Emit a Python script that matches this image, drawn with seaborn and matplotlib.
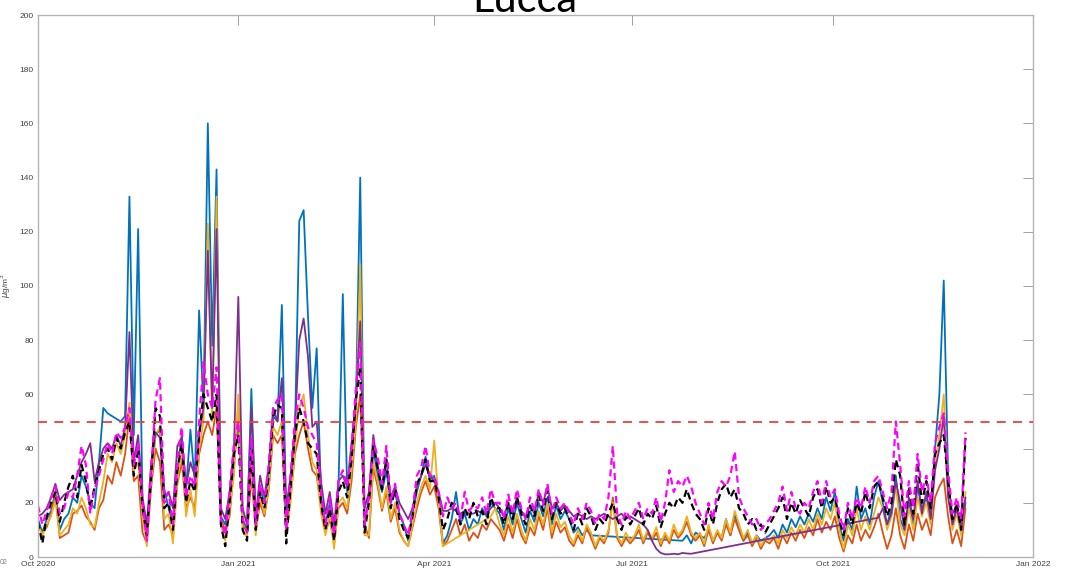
import numpy as np
import pandas as pd
import matplotlib
matplotlib.use("Agg")
import matplotlib.pyplot as plt
import matplotlib.dates as mdates
import seaborn as sns

nan = np.nan

# Daily PM10 concentrations, sampled every second day from 1 Oct 2020
start_date = "2020-10-01"
step = "2D"

blue_series = [
    14, 9, 14, 17, 24, 10, 14, 16, 22, 20, 30, 26, 20, 18, 35, 55,        # Oct 2020
    53, 52, 51, 50, 52, 133, 45, 121, 20, 10, 30, 45, 47, 25, 18,         # Nov
    12, 30, 45, 25, 47, 28, 91, 55, 160, 78, 143, 15, 12, 20, 35,         # Dec
    50, 14, 10, 62, 12, 25, 20, 30, 52, 50, 93, 15, 25, 45, 124, 128,     # Jan 2021
    89, 55, 77, 22, 12, 20, 8, 25, 97, 24, 38, 55, 140, 12,               # Feb
    22, 40, 30, 24, 32, 20, 24, 16, 12, 6, 16, 24, 30, 37, 28,            # Mar
    30, 20, 5, 8, 14, 24, 12, 16, 10, 14, 12, 18, 15, 20, 18,             # Apr
    16, 10, 18, 12, 20, 14, 9, 17, 13, 20, 15, 22, 12, 19, 14, 17,        # May
    14, 9, 11, 8, 10, 8, nan, nan, nan, nan, nan, nan, nan, nan, nan,     # Jun
    nan, nan, nan, nan, nan, nan, nan, nan, nan, nan, nan, 6, 8, 5, 9,    # Jul
    8, 7, 10, 6, 9, 7, 14, 8, 16, 10, 6, 9, 5, 8, 6, 7,                   # Aug
    8, 10, 7, 12, 9, 14, 11, 15, 12, 16, 13, 18, 14, 22, 17,              # Sep
    24, 12, 6, 14, 10, 26, 14, 18, 12, 22, 28, 20, 12, 18, 30,            # Oct
    14, 10, 20, 12, 26, 18, 22, 15, 40, 60, 102, 30, 12, 18, 10, 20,      # Nov
]

orange_series = [
    11, 9, 11, 16, 23, 7, 8, 9, 16, 17, 19, 15, 13, 10, 18, 21,
    30, 27, 35, 30, 38, 52, 28, 30, 9, 5, 26, 40, 35, 10, 12,
    8, 27, 35, 18, 22, 18, 38, 45, 50, 45, 55, 14, 10, 15, 33,
    55, 12, 9, 30, 10, 20, 15, 25, 45, 42, 45, 10, 22, 38, 45, 50,
    40, 32, 30, 18, 9, 14, 5, 18, 20, 16, 28, 48, 60, 12,
    7, 33, 26, 17, 24, 13, 18, 9, 6, 4, 11, 18, 24, 28, 23,
    26, 18, 4, 6, 10, 14, 8, 12, 6, 9, 7, 12, 10, 14, 12,
    10, 6, 12, 7, 14, 8, 5, 11, 8, 15, 10, 18, 7, 13, 9, 11,
    6, 4, 8, 5, 11, 7, 3, 7, 5, 9, 22, 7, 4, 7, 5,
    7, 10, 5, 9, 6, 9, 4, 8, 5, 10, 7, 9, 13, 8, 6,
    8, 4, 10, 5, 9, 6, 12, 8, 14, 10, 6, 8, 4, 7, 3, 6,
    5, 7, 3, 8, 5, 9, 6, 10, 7, 11, 8, 14, 9, 13, 10,
    15, 7, 2, 8, 5, 12, 6, 10, 7, 11, 16, 9, 3, 8, 18,
    8, 3, 12, 6, 16, 10, 14, 8, 22, 26, 29, 15, 5, 10, 4, 18,
]

yellow_series = [
    12, 8, 12, 15, 21, 8, 10, 12, 18, 16, 22, 18, 12, 11, 20, 28,
    38, 35, 42, 38, 45, 57, 32, 35, 15, 4, 28, 45, 48, 14, 16,
    5, 28, 40, 15, 25, 15, 40, 50, 123, 50, 133, 12, 6, 18, 30,
    60, 10, 7, 35, 8, 22, 16, 26, 48, 45, 50, 8, 20, 40, 55, 60,
    45, 35, 32, 16, 8, 16, 3, 20, 22, 18, 32, 50, 108, 8,
    8, 35, 28, 18, 26, 14, 20, 10, 6, 4, 12, 20, 26, 30, 25,
    43, 20, 4, nan, nan, nan, nan, nan, nan, nan, nan, nan, nan, 15, 18,
    12, 8, 15, 9, 16, 10, 6, 14, 10, 17, 12, 20, 9, 16, 11, 13,
    8, 5, 10, 6, 12, 9, 4, 8, 6, 10, 20, 8, 5, 9, 6,
    8, 12, 6, 10, 7, 11, 5, 9, 6, 12, 8, 10, 15, 9, 7,
    9, 5, 12, 6, 10, 7, 14, 9, 17, 12, 7, 10, 5, 8, 4, 7,
    6, 8, 5, 10, 7, 11, 8, 12, 9, 14, 10, 16, 12, 18, 14,
    20, 10, 3, 12, 8, 18, 10, 15, 10, 16, 22, 18, 10, 15, 26,
    12, 8, 18, 10, 22, 15, 20, 12, 35, 45, 60, 25, 10, 16, 8, 24,
]

purple_series = [
    15, 16, 18, 22, 27, 21, 23, 24, 25, 30, 35, 38, 42, 28, 35, 40,
    42, 40, 45, 41, 48, 83, 35, 45, 22, 12, 35, 46, 44, 22, 24,
    18, 41, 44, 26, 35, 30, 45, 55, 113, 55, 121, 18, 14, 24, 40,
    96, 18, 12, 55, 15, 30, 22, 34, 55, 50, 66, 18, 30, 48, 80, 88,
    74, 48, 50, 28, 16, 24, 12, 28, 30, 26, 42, 58, 87, 18,
    24, 45, 33, 26, 36, 22, 26, 20, 17, 14, 18, 26, 30, 34, 30,
    28, 24, 17, 17, 18, 17, 16, 17, 16, 16, 17, 16, 16, 18, 20,
    18, 15, 20, 16, 22, 17, 15, 19, 16, 24, 20, 26, 18, 20, 17, 19,
    17, 15, 16, 15, 14, 15, 14, 15, 16, 15, 14, 15, 16, 14, 15,
    14, 13, 12, 10, 6, 3, 1.5, 1, 1, 1.2, 1, 1.5, 1.3, 1.2, nan,
    nan, nan, nan, nan, nan, nan, nan, nan, nan, nan, nan, nan, nan, nan, nan, nan,
    nan, nan, nan, nan, nan, nan, nan, nan, nan, nan, nan, nan, nan, nan, nan,
    nan, nan, nan, nan, nan, nan, nan, nan, nan, nan, 14.5, 18, 12, 16, 28,
    20, 10, 22, 14, 28, 16, 24, 14, 32, 40, 52, 22, 12, 18, 10, 22,
]

black_series = [
    13, 5, 15, 20, 24, 13, 20, 26, 30, 22, 34, 28, 18, 26, 32, 38,
    40, 36, 44, 40, 46, 50, 30, 40, 18, 8, 30, 55, 52, 18, 20,
    10, 32, 42, 20, 28, 24, 45, 60, 55, 50, 60, 12, 4, 20, 38,
    45, 10, 6, 40, 10, 24, 18, 30, 52, 56, 55, 5, 26, 45, 55, 50,
    42, 40, 38, 20, 10, 18, 6, 24, 28, 22, 36, 58, 70, 9,
    20, 41, 33, 25, 36, 18, 25, 14, 10, 7, 15, 27, 30, 36, 28,
    28, 22, 10, 14, 20, 18, 12, 18, 14, 20, 15, 17, 12, 22, 18,
    18, 12, 20, 14, 22, 16, 12, 19, 15, 23, 17, 25, 14, 20, 16, 18,
    14, 10, 16, 12, 18, 15, 10, 14, 12, 16, 20, 14, 10, 15, 12,
    15, 18, 12, 16, 14, 19, 11, 16, 20, 18, 22, 20, 25, 20, 16,
    14, 10, 18, 12, 20, 25, 27, 22, 25, 18, 16, 12, 14, 10, 12, 9,
    12, 15, 18, 22, 14, 20, 16, 21, 18, 15, 22, 25, 18, 26, 20,
    22, 14, 8, 18, 12, 20, 16, 24, 18, 26, 28, 22, 15, 20, 36,
    30, 12, 26, 16, 35, 20, 28, 18, 38, 42, 45, 28, 14, 20, 10, 44,
]

magenta_series = [
    19, 12, 17, 22, 26, 16, 18, 24, 22, 30, 41, 34, 16, 25, 30, 36,
    42, 38, 46, 44, 48, 55, 34, 42, 20, 6, 32, 58, 66, 20, 24,
    12, 35, 48, 22, 30, 26, 50, 72, 60, 55, 70, 14, 8, 24, 42,
    50, 14, 9, 44, 12, 27, 20, 34, 55, 58, 60, 10, 30, 50, 60, 55,
    48, 45, 42, 24, 12, 22, 8, 28, 32, 26, 40, 62, 79, 12,
    22, 43, 37, 27, 41, 20, 27, 16, 12, 8, 17, 30, 33, 41, 30,
    30, 24, 15, 22, 18, 20, 14, 24, 17, 19, 18, 22, 16, 25, 20,
    20, 14, 23, 16, 25, 18, 14, 22, 17, 25, 19, 27, 16, 22, 18, 20,
    16, 12, 18, 14, 20, 17, 12, 16, 14, 22, 41, 16, 12, 17, 14,
    17, 20, 14, 18, 16, 22, 13, 20, 32, 24, 28, 26, 30, 26, 20,
    16, 12, 20, 14, 24, 28, 26, 30, 39, 22, 18, 15, 12, 14, 10, 12,
    14, 17, 20, 26, 17, 24, 18, 16, 20, 18, 24, 28, 20, 28, 22,
    25, 16, 10, 20, 14, 22, 18, 26, 20, 28, 30, 24, 18, 24, 50,
    34, 15, 28, 18, 38, 24, 30, 20, 42, 48, 53, 32, 16, 22, 14, 46,
]

limit_value = 50
y_ticks = list(range(0, 201, 20))
x_tick_dates = ["2020-10-01", "2021-01-01", "2021-04-01",
                "2021-07-01", "2021-10-01", "2022-01-01"]

# ---------------------------------------------------------------------------
n = len(blue_series)
dates = pd.date_range(start_date, periods=n, freq=step)

series = {
    "blue": (blue_series, "#0072BD", "-"),
    "orange": (orange_series, "#D95319", "-"),
    "yellow": (yellow_series, "#EDB120", "-"),
    "purple": (purple_series, "#7E2F8E", "-"),
    "black": (black_series, "#000000", "--"),
    "magenta": (magenta_series, "#FF00FF", "--"),
}

frames = []
for name, (vals, _, _) in series.items():
    assert len(vals) == n, name
    frames.append(pd.DataFrame({"date": dates, "value": vals, "series": name}))
df = pd.concat(frames, ignore_index=True).dropna()

sns.set_style("white")
plt.rcParams["font.family"] = ["Liberation Sans", "DejaVu Sans"]

fig = plt.figure(figsize=(10.71, 5.72), dpi=100)
ax = fig.add_axes([38 / 1071, 15 / 572, 995 / 1071, 542 / 572])

for name, (_, color, ls) in series.items():
    sub = df[df["series"] == name]
    if ls == "--":
        sns.lineplot(data=sub, x="date", y="value", ax=ax, color=color,
                     linewidth=1.6, estimator=None, sort=False,
                     linestyle=(0, (3.2, 2.0)))
    else:
        sns.lineplot(data=sub, x="date", y="value", ax=ax, color=color,
                     linewidth=1.3, estimator=None, sort=False)

ax.axhline(limit_value, color="#E8413C", linewidth=1.3,
           linestyle=(0, (5, 4)), zorder=5)

ax.set_xlim(pd.Timestamp(x_tick_dates[0]), pd.Timestamp(x_tick_dates[-1]))
ax.set_ylim(0, 200)
ax.set_yticks(y_ticks)
ax.set_xticks([pd.Timestamp(d) for d in x_tick_dates])
ax.xaxis.set_major_formatter(mdates.DateFormatter("%b %Y"))

ax.set_xlabel("")
ax.set_ylabel(r"$\mu$g/m$^3$", fontsize=6, color="#404040")
ax.yaxis.set_label_coords(-0.025, 0.5)

for side in ["left", "right", "top", "bottom"]:
    ax.spines[side].set_visible(True)
    ax.spines[side].set_color("#b4b4b4")
    ax.spines[side].set_linewidth(1.0)

ax.tick_params(axis="both", which="major", direction="in", length=7,
               width=0.7, color="#a0a0a0", labelsize=6, labelcolor="#404040",
               top=True, right=True, pad=3)

fig.text(525 / 1071, 1 - 12 / 572, "Lucca", ha="center", va="baseline",
         fontsize=30, family=["Lato", "DejaVu Sans"], color="#000000")
fig.text(0.0, 1 - 563 / 572, "02", ha="left", va="center", fontsize=5,
         color="#808080")

fig.savefig("out.png", dpi=100, facecolor="white")
